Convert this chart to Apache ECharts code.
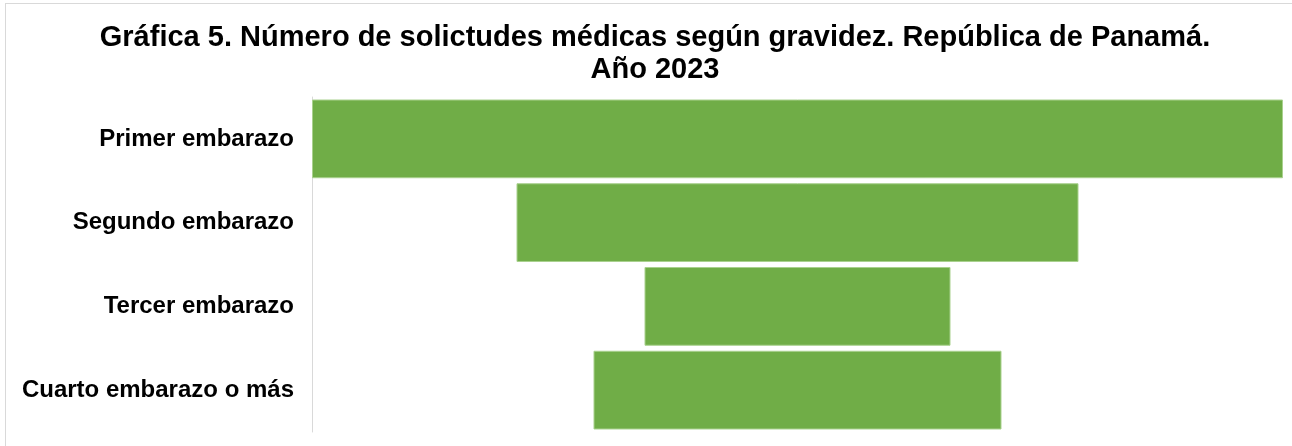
<!DOCTYPE html>
<html>
<head>
<meta charset="utf-8">
<script src="https://cdn.jsdelivr.net/npm/echarts@6/dist/echarts.min.js"></script>
<style>
  html, body { margin: 0; padding: 0; background: #fff; }
  #frame { position: absolute; left: 5px; top: 3px; width: 1287px; height: 443px;
           border-left: 1px solid #d9d9d9; border-top: 1px solid #d9d9d9; box-sizing: border-box; }
  #chart { position: absolute; left: 0; top: 0; width: 1292px; height: 446px; }
</style>
</head>
<body>
<div id="frame"></div>
<div id="chart"></div>
<script>
// categorias y valores (estimados a partir del ancho de las barras)
var categorias = ['Primer embarazo', 'Segundo embarazo', 'Tercer embarazo', 'Cuarto embarazo o más'];
var solicitudes = [1942, 1124, 612, 816];

var maximo = Math.max.apply(null, solicitudes);
// desplazamiento invisible para centrar cada barra (embudo)
var relleno = solicitudes.map(function (v) { return (maximo - v) / 2; });

var chart = echarts.init(document.getElementById('chart'));
chart.setOption({
  animation: false,
  title: {
    text: 'Gráfica 5. Número de solictudes médicas según gravidez. República de Panamá.\nAño 2023',
    left: 650,
    textAlign: 'center',
    top: 17,
    textStyle: {
      fontFamily: 'Liberation Sans, Arial, sans-serif',
      fontSize: 29,
      fontWeight: 'bold',
      color: '#000',
      lineHeight: 32
    }
  },
  grid: { left: 312, right: 9, top: 97, bottom: 14 },
  xAxis: {
    type: 'value',
    min: 0,
    max: maximo,
    show: false
  },
  yAxis: {
    type: 'category',
    inverse: true,
    data: categorias,
    axisLine: { lineStyle: { color: '#d9d9d9', width: 1 } },
    axisTick: { show: false },
    axisLabel: {
      margin: 18,
      padding: [5, 0, 0, 0],
      fontFamily: 'Liberation Sans, Arial, sans-serif',
      fontSize: 24,
      fontWeight: 'bold',
      color: '#000'
    }
  },
  series: [
    {
      type: 'bar',
      stack: 'embudo',
      data: relleno,
      itemStyle: { color: 'transparent' },
      silent: true,
      barCategoryGap: '6%'
    },
    {
      type: 'bar',
      stack: 'embudo',
      data: solicitudes,
      itemStyle: { color: '#70AD47', borderColor: '#A9D18E', borderWidth: 1 },
      barCategoryGap: '6%'
    }
  ]
});
</script>
</body>
</html>
